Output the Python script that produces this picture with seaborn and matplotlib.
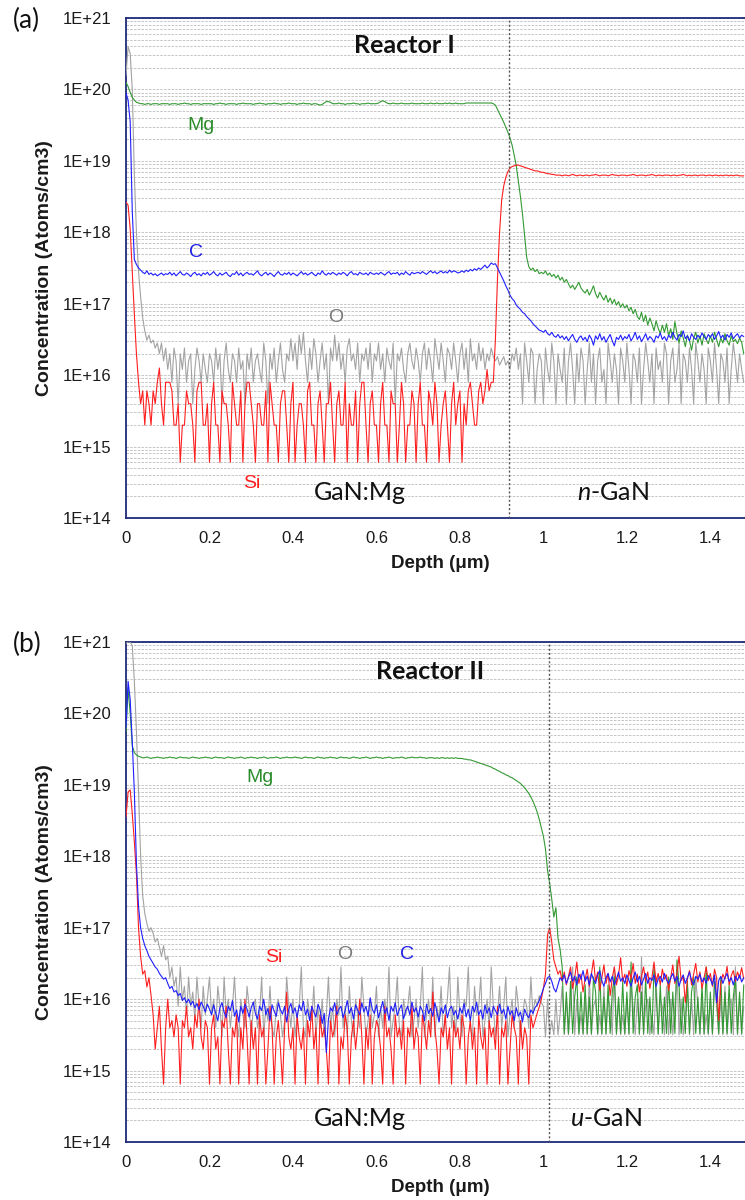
import numpy as np
import pandas as pd
import matplotlib
matplotlib.use("Agg")
import matplotlib.pyplot as plt
import seaborn as sns
from matplotlib.ticker import LogLocator, NullFormatter

# ---------------- data: log10(concentration, atoms/cm3), sampled every 0.005 um ----------------
STEP = 0.005

# Panel (a) Reactor I
mg_a = [
 20.10, 20.04, 19.96, 19.89, 19.85, 19.82, 19.81, 19.80, 19.80, 19.79, 19.80, 19.80, 19.79, 19.80, 19.80, 19.80, 19.79, 19.80, 19.80, 19.80,
 19.80, 19.79, 19.80, 19.80, 19.80, 19.79, 19.80, 19.80, 19.81, 19.80, 19.80, 19.79, 19.80, 19.80, 19.80, 19.80, 19.79, 19.80, 19.80, 19.80,
 19.80, 19.80, 19.79, 19.80, 19.80, 19.81, 19.80, 19.80, 19.79, 19.80, 19.80, 19.80, 19.80, 19.79, 19.80, 19.80, 19.81, 19.80, 19.80, 19.80,
 19.80, 19.79, 19.80, 19.80, 19.81, 19.80, 19.80, 19.79, 19.80, 19.80, 19.80, 19.81, 19.80, 19.80, 19.79, 19.80, 19.80, 19.80, 19.81, 19.80,
 19.80, 19.80, 19.79, 19.80, 19.80, 19.81, 19.80, 19.80, 19.80, 19.79, 19.80, 19.80, 19.79, 19.78, 19.79, 19.81, 19.83, 19.83, 19.82, 19.80,
 19.80, 19.80, 19.81, 19.80, 19.80, 19.79, 19.80, 19.80, 19.80, 19.81, 19.80, 19.80, 19.79, 19.80, 19.80, 19.80, 19.81, 19.80, 19.80, 19.80,
 19.80, 19.81, 19.83, 19.84, 19.83, 19.81, 19.80, 19.80, 19.81, 19.80, 19.80, 19.80, 19.81, 19.80, 19.80, 19.80, 19.80, 19.81, 19.80, 19.80,
 19.80, 19.80, 19.81, 19.80, 19.80, 19.80, 19.81, 19.80, 19.80, 19.81, 19.80, 19.80, 19.80, 19.81, 19.80, 19.81, 19.80, 19.80, 19.81, 19.80,
 19.80, 19.80, 19.80, 19.81, 19.81, 19.81, 19.81, 19.81, 19.81, 19.81, 19.81, 19.81, 19.81, 19.81, 19.81, 19.81, 19.80, 19.78, 19.72, 19.66,
 19.60, 19.54, 19.47, 19.40, 19.32, 19.22, 19.08, 18.93, 18.72, 18.50, 18.25, 17.95, 17.65, 17.52, 17.47, 17.50, 17.45, 17.48, 17.42, 17.44,
 17.42, 17.46, 17.40, 17.43, 17.38, 17.41, 17.36, 17.40, 17.33, 17.37, 17.30, 17.34, 17.28, 17.22, 17.26, 17.20, 17.25, 17.30, 17.22, 17.18,
 17.15, 17.20, 17.12, 17.18, 17.25, 17.14, 17.08, 17.16, 17.10, 17.05, 17.12, 17.02, 17.08, 17.00, 17.06, 16.98, 17.03, 16.95, 17.00, 16.94,
 16.98, 16.90, 16.95, 16.86, 16.92, 16.82, 16.78, 16.88, 16.75, 16.84, 16.70, 16.80, 16.72, 16.62, 16.76, 16.66, 16.58, 16.70, 16.60, 16.72,
 16.55, 16.65, 16.50, 16.75, 16.58, 16.45, 16.62, 16.52, 16.40, 16.56, 16.48, 16.35, 16.52, 16.60, 16.45, 16.55, 16.42, 16.58, 16.50, 16.44,
 16.55, 16.46, 16.60, 16.50, 16.40, 16.52, 16.45, 16.58, 16.48, 16.42, 16.55, 16.47, 16.50, 16.44, 16.52, 16.46, 16.30,
]
si_a = [
 18.42, 18.38, 18.05, 17.45, 16.85, 16.30, 15.90, 15.60, 15.78, 15.30, 15.78, 15.60, 15.30, 15.78, 15.60, 15.90, 16.10, 15.60, 15.30, 15.90,
 15.90, 15.90, 15.78, 15.30, 15.30, 15.60, 14.78, 15.30, 15.30, 15.78, 15.60, 15.60, 15.30, 14.78, 15.78, 15.90, 15.90, 15.30, 15.30, 15.60,
 14.78, 15.60, 15.90, 15.30, 15.30, 14.78, 15.78, 15.60, 15.60, 15.30, 14.78, 15.90, 15.60, 15.30, 15.30, 15.78, 14.78, 15.60, 15.90, 15.90,
 15.60, 15.30, 14.78, 15.60, 15.60, 15.30, 15.30, 15.78, 14.78, 15.90, 15.60, 15.30, 15.30, 14.78, 15.60, 15.78, 15.78, 15.30, 14.78, 15.60,
 15.90, 14.78, 15.30, 15.60, 15.60, 15.30, 14.78, 15.78, 15.90, 15.30, 15.30, 14.78, 15.60, 15.78, 15.30, 14.78, 15.60, 15.60, 15.90, 15.30,
 14.78, 15.60, 15.78, 15.30, 15.30, 15.90, 14.78, 15.60, 15.30, 15.30, 15.78, 14.78, 15.60, 15.90, 15.90, 15.30, 14.78, 15.60, 15.78, 15.30,
 15.30, 14.78, 15.60, 15.90, 15.30, 15.30, 14.78, 15.78, 15.60, 15.60, 14.78, 15.30, 15.90, 15.60, 14.78, 15.30, 15.30, 15.78, 15.60, 14.78,
 15.60, 15.90, 15.30, 15.30, 14.78, 15.78, 15.60, 15.30, 15.90, 15.60, 14.78, 15.30, 15.60, 15.78, 15.30, 14.78, 15.60, 15.90, 15.30, 15.60,
 15.78, 14.78, 15.60, 15.30, 15.78, 15.90, 15.60, 15.30, 15.30, 15.78, 15.90, 15.60, 15.78, 16.08, 15.78, 15.90, 15.90, 16.50, 17.35, 18.00,
 18.45, 18.65, 18.77, 18.85, 18.90, 18.92, 18.93, 18.94, 18.94, 18.93, 18.92, 18.91, 18.90, 18.89, 18.88, 18.87, 18.86, 18.86, 18.85, 18.84,
 18.84, 18.83, 18.82, 18.82, 18.81, 18.81, 18.80, 18.80, 18.80, 18.79, 18.80, 18.80, 18.79, 18.80, 18.81, 18.80, 18.79, 18.80, 18.80, 18.79,
 18.80, 18.80, 18.79, 18.80, 18.80, 18.81, 18.80, 18.79, 18.80, 18.80, 18.80, 18.79, 18.80, 18.81, 18.80, 18.80, 18.79, 18.80, 18.80, 18.80,
 18.79, 18.80, 18.80, 18.81, 18.80, 18.79, 18.80, 18.80, 18.80, 18.79, 18.80, 18.80, 18.81, 18.80, 18.79, 18.80, 18.80, 18.79, 18.80, 18.80,
 18.80, 18.79, 18.80, 18.80, 18.79, 18.80, 18.80, 18.81, 18.80, 18.79, 18.80, 18.79, 18.80, 18.80, 18.79, 18.80, 18.80, 18.80, 18.79, 18.80,
 18.80, 18.79, 18.80, 18.80, 18.79, 18.80, 18.79, 18.80, 18.80, 18.79, 18.80, 18.79, 18.80, 18.80, 18.79, 18.79, 18.79,
]
c_a = [
 19.95, 19.85, 19.55, 18.30, 17.62, 17.55, 17.50, 17.47, 17.44, 17.42, 17.46, 17.41, 17.43, 17.40, 17.42, 17.39, 17.41, 17.43, 17.40, 17.42,
 17.41, 17.44, 17.40, 17.43, 17.39, 17.42, 17.45, 17.41, 17.40, 17.43, 17.41, 17.38, 17.42, 17.44, 17.40, 17.42, 17.39, 17.43, 17.41, 17.44,
 17.40, 17.42, 17.45, 17.41, 17.39, 17.43, 17.40, 17.42, 17.44, 17.40, 17.38, 17.42, 17.41, 17.45, 17.40, 17.43, 17.39, 17.42, 17.44, 17.41,
 17.42, 17.40, 17.43, 17.46, 17.41, 17.39, 17.42, 17.44, 17.40, 17.43, 17.41, 17.38, 17.42, 17.45, 17.41, 17.40, 17.43, 17.41, 17.44, 17.40,
 17.43, 17.41, 17.39, 17.42, 17.45, 17.41, 17.43, 17.40, 17.42, 17.44, 17.41, 17.39, 17.43, 17.41, 17.46, 17.42, 17.40, 17.43, 17.41, 17.44,
 17.42, 17.40, 17.43, 17.41, 17.44, 17.42, 17.39, 17.43, 17.45, 17.41, 17.42, 17.40, 17.44, 17.42, 17.41, 17.43, 17.40, 17.44, 17.42, 17.41,
 17.43, 17.41, 17.44, 17.42, 17.40, 17.43, 17.45, 17.41, 17.43, 17.42, 17.44, 17.40, 17.43, 17.41, 17.45, 17.42, 17.40, 17.44, 17.42, 17.43,
 17.44, 17.42, 17.45, 17.43, 17.41, 17.44, 17.46, 17.43, 17.45, 17.42, 17.44, 17.46, 17.43, 17.45, 17.43, 17.47, 17.44, 17.46, 17.45, 17.43,
 17.44, 17.46, 17.44, 17.47, 17.45, 17.48, 17.46, 17.49, 17.47, 17.50, 17.48, 17.51, 17.54, 17.50, 17.53, 17.57, 17.55, 17.56, 17.50, 17.44,
 17.38, 17.32, 17.25, 17.19, 17.12, 17.07, 17.04, 16.98, 16.95, 16.92, 16.88, 16.86, 16.82, 16.79, 16.76, 16.72, 16.69, 16.66, 16.63, 16.62,
 16.60, 16.63, 16.58, 16.56, 16.60, 16.55, 16.53, 16.57, 16.52, 16.55, 16.50, 16.54, 16.48, 16.53, 16.57, 16.50, 16.46, 16.52, 16.55, 16.49,
 16.53, 16.47, 16.56, 16.51, 16.42, 16.55, 16.50, 16.58, 16.49, 16.54, 16.46, 16.52, 16.57, 16.48, 16.41, 16.53, 16.50, 16.56, 16.49, 16.54,
 16.51, 16.57, 16.48, 16.53, 16.60, 16.50, 16.55, 16.47, 16.52, 16.58, 16.49, 16.54, 16.51, 16.46, 16.55, 16.52, 16.59, 16.50, 16.54, 16.48,
 16.56, 16.52, 16.60, 16.53, 16.49, 16.57, 16.54, 16.62, 16.51, 16.55, 16.48, 16.58, 16.53, 16.50, 16.56, 16.52, 16.59, 16.54, 16.50, 16.57,
 16.53, 16.58, 16.50, 16.55, 16.61, 16.52, 16.56, 16.49, 16.57, 16.53, 16.59, 16.51, 16.55, 16.58, 16.52, 16.56, 16.54,
]
o_a = [
 20.20, 20.60, 20.50, 20.00, 18.80, 18.00, 17.45, 17.10, 16.80, 16.62, 16.49, 16.56, 16.45, 16.49, 16.38, 16.45, 16.30, 16.45, 16.20, 16.38,
 16.08, 16.30, 15.90, 16.38, 16.20, 15.60, 16.30, 16.08, 16.38, 15.90, 16.20, 16.30, 15.60, 16.08, 16.38, 16.20, 15.90, 16.30, 16.08, 15.90,
 16.30, 16.20, 15.90, 16.38, 16.08, 16.30, 15.60, 16.20, 16.45, 16.08, 15.90, 16.30, 16.20, 15.90, 16.38, 16.08, 16.20, 15.60, 16.30, 16.08,
 16.38, 15.90, 16.20, 16.30, 16.08, 15.90, 16.45, 16.20, 15.60, 16.30, 16.08, 16.38, 15.90, 16.20, 16.45, 16.08, 15.90, 16.30, 16.20, 16.51,
 16.20, 16.45, 16.08, 16.56, 16.30, 16.60, 16.20, 15.90, 16.38, 16.08, 16.51, 16.30, 15.90, 16.20, 16.45, 16.08, 16.30, 15.60, 16.38, 16.20,
 16.56, 16.20, 16.45, 16.08, 16.30, 15.90, 16.38, 16.51, 16.20, 16.30, 16.08, 16.45, 15.90, 16.30, 16.20, 16.38, 16.08, 16.45, 15.90, 16.30,
 16.20, 16.45, 16.08, 16.30, 15.90, 16.38, 16.20, 16.08, 16.45, 15.60, 16.30, 16.20, 16.38, 16.08, 15.90, 16.30, 16.45, 16.20, 16.08, 16.38,
 16.20, 15.90, 16.30, 16.45, 16.08, 16.38, 16.20, 15.90, 16.51, 16.30, 16.08, 16.45, 16.20, 15.90, 16.38, 16.30, 16.08, 16.45, 16.20, 15.90,
 16.30, 16.45, 16.08, 16.38, 15.90, 16.51, 16.20, 16.30, 16.08, 16.45, 16.20, 16.38, 16.08, 16.30, 16.20, 16.38, 16.26, 16.20, 16.26, 16.14,
 16.20, 16.26, 16.14, 16.20, 16.08, 16.30, 16.20, 16.38, 16.08, 16.30, 15.60, 16.45, 16.20, 15.90, 16.38, 16.30, 15.60, 16.08, 16.30, 16.20,
 15.60, 16.38, 16.08, 15.90, 16.45, 16.20, 15.60, 16.30, 16.08, 15.90, 16.38, 15.60, 16.20, 16.45, 16.08, 15.60, 16.30, 15.90, 16.38, 16.20,
 15.60, 16.08, 16.45, 15.90, 16.30, 15.60, 16.20, 16.38, 15.90, 16.08, 15.60, 16.45, 16.20, 15.90, 16.30, 16.08, 15.60, 16.38, 16.20, 15.90,
 16.45, 16.08, 15.60, 16.30, 16.20, 15.90, 16.38, 15.60, 16.08, 16.45, 16.20, 15.90, 16.30, 15.60, 16.38, 16.08, 16.20, 15.90, 16.45, 16.30,
 15.60, 16.20, 16.38, 15.90, 16.08, 16.45, 15.60, 16.30, 16.20, 15.90, 16.38, 16.08, 15.60, 16.45, 16.20, 15.90, 16.30, 16.08, 15.60, 16.38,
 16.20, 15.90, 16.45, 16.08, 15.60, 16.30, 16.20, 15.90, 16.38, 15.60, 16.08, 16.45, 16.20, 15.90, 16.30, 16.08, 15.90,
]

# Panel (b) Reactor II
mg_b = [
 19.75, 20.35, 20.00, 19.55, 19.45, 19.42, 19.40, 19.39, 19.38, 19.38, 19.39, 19.38, 19.37, 19.38, 19.38, 19.39, 19.38, 19.38, 19.37, 19.38,
 19.38, 19.39, 19.38, 19.38, 19.37, 19.38, 19.39, 19.38, 19.38, 19.38, 19.37, 19.38, 19.39, 19.38, 19.38, 19.37, 19.38, 19.38, 19.39, 19.38,
 19.38, 19.37, 19.38, 19.39, 19.38, 19.38, 19.38, 19.37, 19.38, 19.39, 19.38, 19.38, 19.37, 19.38, 19.38, 19.39, 19.38, 19.37, 19.38, 19.38,
 19.39, 19.38, 19.38, 19.37, 19.38, 19.38, 19.39, 19.38, 19.37, 19.38, 19.38, 19.38, 19.39, 19.38, 19.37, 19.38, 19.38, 19.39, 19.38, 19.38,
 19.38, 19.39, 19.38, 19.38, 19.37, 19.38, 19.39, 19.38, 19.38, 19.38, 19.37, 19.38, 19.39, 19.38, 19.38, 19.37, 19.38, 19.38, 19.39, 19.38,
 19.38, 19.37, 19.38, 19.39, 19.38, 19.38, 19.38, 19.37, 19.38, 19.39, 19.38, 19.38, 19.37, 19.38, 19.38, 19.39, 19.38, 19.37, 19.38, 19.38,
 19.39, 19.38, 19.38, 19.37, 19.38, 19.38, 19.39, 19.38, 19.37, 19.38, 19.38, 19.38, 19.39, 19.38, 19.37, 19.38, 19.38, 19.39, 19.38, 19.38,
 19.38, 19.39, 19.38, 19.38, 19.37, 19.38, 19.38, 19.38, 19.37, 19.38, 19.37, 19.38, 19.38, 19.37, 19.38, 19.37, 19.38, 19.37, 19.38, 19.37,
 19.37, 19.37, 19.36, 19.36, 19.35, 19.35, 19.34, 19.33, 19.32, 19.31, 19.30, 19.29, 19.28, 19.27, 19.26, 19.25, 19.23, 19.22, 19.20, 19.19,
 19.17, 19.16, 19.14, 19.13, 19.11, 19.10, 19.08, 19.06, 19.04, 19.02, 18.99, 18.96, 18.92, 18.88, 18.83, 18.77, 18.70, 18.62, 18.52, 18.40,
 18.28, 18.10, 17.80, 17.62, 17.40, 17.15, 17.28, 16.85, 16.70, 16.45, 15.52, 16.10, 15.52, 16.25, 15.52, 16.03, 16.31, 15.52, 16.10, 15.52,
 16.20, 15.52, 16.03, 15.52, 16.31, 16.10, 15.52, 16.45, 15.52, 16.03, 15.52, 16.20, 15.52, 16.10, 16.31, 15.52, 16.03, 15.52, 16.25, 15.52,
 16.10, 15.52, 16.52, 15.52, 16.03, 16.20, 15.52, 16.10, 15.52, 16.31, 15.52, 16.03, 15.52, 16.45, 16.10, 15.52, 16.20, 15.52, 16.03, 15.52,
 16.31, 15.52, 16.10, 15.52, 16.55, 16.20, 15.52, 16.03, 15.52, 16.25, 15.52, 16.10, 16.31, 15.52, 16.03, 15.52, 16.20, 15.52, 16.45, 15.52,
 16.10, 15.52, 16.25, 16.03, 15.52, 16.31, 15.52, 16.10, 15.52, 16.20, 15.52, 16.03, 16.31, 15.52, 16.10, 15.52, 16.20,
]
si_b = [
 18.55, 18.90, 18.93, 18.60, 18.20, 17.75, 17.00, 16.60, 16.35, 16.40, 16.17, 16.30, 16.05, 15.78, 15.30, 15.60, 15.90, 15.30, 14.81, 15.60,
 16.00, 15.60, 15.70, 15.47, 15.78, 15.60, 14.81, 15.70, 15.60, 15.90, 15.47, 15.60, 15.30, 15.78, 15.60, 16.00, 15.47, 15.30, 15.70, 15.60,
 14.81, 15.60, 15.78, 15.30, 15.47, 14.81, 15.70, 15.60, 15.90, 15.30, 14.81, 15.60, 15.47, 15.78, 14.81, 15.60, 15.30, 16.00, 15.47, 14.81,
 15.70, 15.30, 15.60, 14.81, 15.78, 15.47, 15.60, 14.81, 15.30, 15.90, 15.60, 14.81, 15.47, 15.70, 15.30, 14.81, 15.60, 16.10, 15.47, 15.30,
 15.60, 14.81, 15.78, 15.47, 15.30, 15.60, 14.81, 15.70, 15.47, 15.90, 15.30, 15.60, 14.81, 15.78, 15.47, 15.60, 15.30, 14.81, 15.70, 15.47,
 15.60, 15.90, 14.81, 15.47, 15.30, 15.78, 15.60, 14.81, 15.47, 15.70, 15.30, 15.60, 16.00, 15.47, 14.81, 15.60, 15.30, 15.78, 14.81, 15.47,
 15.70, 15.60, 15.30, 14.81, 15.90, 15.47, 15.60, 15.30, 14.81, 15.78, 15.47, 15.60, 15.30, 15.70, 14.81, 15.60, 15.47, 15.90, 15.30, 15.60,
 15.47, 14.81, 15.78, 15.60, 15.30, 15.70, 15.47, 16.10, 15.60, 15.30, 14.81, 15.60, 15.47, 15.78, 15.30, 15.60, 14.81, 15.70, 15.47, 15.60,
 15.30, 15.78, 15.60, 14.81, 15.47, 15.70, 15.30, 15.60, 14.81, 15.78, 15.47, 15.30, 15.60, 14.81, 15.70, 15.47, 15.60, 15.30, 15.90, 14.81,
 15.60, 15.47, 15.70, 14.81, 15.30, 15.78, 15.60, 15.47, 14.81, 15.70, 15.30, 15.60, 15.47, 14.81, 15.78, 15.60, 15.70, 15.80, 15.89, 16.00,
 16.15, 16.35, 16.90, 17.00, 16.80, 16.55, 16.45, 16.35, 16.40, 16.25, 16.38, 16.20, 16.32, 16.45, 16.15, 16.30, 16.52, 16.22, 16.35, 16.10,
 16.28, 16.42, 16.18, 16.35, 16.55, 16.25, 16.38, 16.12, 16.30, 16.48, 16.22, 16.36, 16.05, 16.30, 16.45, 16.20, 16.33, 16.58, 16.25, 16.35,
 16.18, 16.40, 16.28, 16.50, 16.22, 16.35, 16.10, 16.32, 16.45, 16.25, 16.38, 16.15, 16.30, 16.52, 16.24, 16.36, 16.20, 16.42, 16.28, 16.34,
 16.12, 16.30, 16.48, 16.22, 16.36, 16.60, 16.26, 16.32, 15.95, 16.28, 16.40, 16.20, 16.35, 16.50, 16.24, 16.38, 16.15, 16.30, 16.45, 16.26,
 16.36, 16.18, 16.42, 16.30, 15.70, 16.22, 16.35, 16.28, 16.46, 16.20, 16.33, 16.40, 16.25, 16.38, 16.30, 16.44, 16.28,
]
c_b = [
 19.80, 20.45, 20.20, 19.60, 18.90, 17.90, 17.30, 17.00, 16.85, 16.75, 16.68, 16.60, 16.55, 16.50, 16.45, 16.42, 16.36, 16.32, 16.28, 16.30,
 16.22, 16.15, 16.18, 16.10, 16.12, 16.05, 16.08, 15.98, 16.02, 15.95, 16.00, 15.92, 15.97, 15.88, 15.94, 15.85, 15.96, 15.90, 15.82, 15.93,
 15.86, 15.78, 15.92, 15.80, 15.70, 15.88, 15.95, 15.82, 15.74, 15.90, 15.84, 15.98, 15.76, 15.85, 15.68, 15.90, 15.80, 15.93, 15.86, 15.75,
 15.88, 15.96, 15.80, 15.72, 15.90, 15.84, 16.00, 15.78, 15.87, 15.70, 15.92, 15.83, 15.76, 15.95, 15.85, 15.79, 15.90, 15.68, 15.86, 15.94,
 15.80, 15.88, 15.74, 15.92, 15.84, 15.97, 15.78, 15.86, 15.70, 15.90, 15.82, 15.75, 15.93, 15.85, 15.66, 15.80, 15.25, 15.72, 15.88, 15.83,
 15.95, 15.78, 15.86, 15.90, 15.74, 15.84, 15.98, 15.80, 15.88, 15.72, 15.92, 15.85, 15.78, 15.95, 15.82, 15.90, 15.76, 16.02, 15.86, 15.80,
 15.92, 15.74, 15.85, 15.97, 15.80, 15.88, 15.70, 15.90, 15.83, 15.95, 15.77, 15.86, 15.92, 15.72, 15.84, 15.90, 15.78, 15.96, 15.82, 15.88,
 15.75, 15.90, 15.84, 15.70, 15.93, 15.80, 15.87, 15.76, 15.95, 15.82, 15.68, 15.88, 15.80, 15.92, 15.74, 15.86, 15.90, 15.78, 15.84, 15.72,
 15.88, 15.80, 15.94, 15.75, 15.86, 15.70, 15.90, 15.82, 15.96, 15.78, 15.85, 15.72, 15.92, 15.80, 15.88, 15.74, 15.90, 15.84, 15.78, 15.93,
 15.80, 15.86, 15.72, 15.90, 15.78, 15.84, 15.70, 15.88, 15.76, 15.82, 15.68, 15.86, 15.78, 15.74, 15.85, 15.80, 15.88, 15.92, 15.98, 16.06,
 16.15, 16.22, 16.30, 16.32, 16.25, 16.15, 16.10, 16.20, 16.30, 16.26, 16.34, 16.22, 16.30, 16.38, 16.25, 16.32, 16.20, 16.35, 16.28, 16.40,
 16.25, 16.32, 16.20, 16.36, 16.28, 16.22, 16.34, 16.40, 16.26, 16.18, 16.30, 16.36, 16.24, 16.32, 16.20, 16.28, 16.38, 16.25, 16.30, 16.22,
 16.34, 16.26, 16.18, 16.30, 16.38, 16.24, 16.32, 16.20, 16.28, 16.36, 16.22, 16.30, 16.26, 16.34, 16.18, 16.28, 16.32, 16.24, 16.36, 16.27,
 16.22, 16.30, 16.36, 16.25, 16.32, 16.18, 16.28, 16.34, 16.22, 16.30, 16.38, 16.26, 16.20, 16.32, 16.28, 16.35, 16.24, 16.30, 16.22, 16.33,
 16.28, 16.20, 16.34, 15.95, 16.26, 16.32, 16.22, 16.30, 16.36, 16.25, 16.30, 16.20, 16.32, 16.26, 16.34, 16.24, 16.30,
]
o_b = [
 20.98, 21.00, 21.00, 20.95, 20.45, 19.75, 18.90, 18.00, 17.45, 17.20, 17.06, 16.95, 17.00, 16.92, 16.80, 16.85, 16.73, 16.60, 16.75, 16.55,
 16.60, 16.30, 16.45, 16.18, 16.31, 15.90, 16.45, 16.00, 16.18, 15.78, 16.31, 15.90, 16.10, 15.70, 16.31, 15.90, 15.60, 16.18, 15.78, 16.00,
 16.31, 15.78, 16.00, 15.60, 16.18, 15.90, 15.47, 16.31, 15.78, 16.00, 15.60, 15.90, 16.31, 15.70, 15.47, 16.00, 15.78, 15.60, 16.18, 15.90,
 15.47, 15.90, 16.00, 15.60, 15.78, 16.31, 15.47, 15.90, 15.70, 16.18, 15.60, 15.47, 15.90, 16.00, 15.78, 15.47, 15.70, 16.31, 15.90, 15.60,
 16.00, 15.47, 15.78, 15.90, 16.45, 15.60, 15.47, 16.00, 15.78, 15.70, 16.18, 15.47, 15.90, 15.60, 16.00, 15.47, 15.78, 16.31, 15.60, 15.90,
 15.47, 16.00, 15.78, 16.45, 15.60, 15.90, 15.47, 16.18, 15.70, 15.47, 16.00, 15.78, 15.60, 16.31, 15.90, 15.47, 15.70, 16.00, 15.60, 15.78,
 16.18, 15.47, 15.90, 15.60, 16.00, 15.78, 16.45, 15.47, 15.70, 15.90, 16.31, 15.60, 15.47, 16.00, 15.78, 15.90, 16.18, 15.47, 15.70, 16.00,
 15.60, 15.90, 16.45, 15.47, 15.78, 16.00, 15.60, 16.31, 15.47, 15.90, 15.70, 16.18, 15.47, 15.78, 16.00, 16.45, 15.60, 15.90, 15.47, 16.31,
 15.78, 15.47, 16.00, 15.90, 16.45, 15.60, 15.47, 16.18, 15.78, 15.90, 16.31, 15.47, 15.70, 16.00, 15.60, 16.45, 15.90, 15.47, 15.78, 16.18,
 15.60, 15.90, 16.31, 15.47, 15.78, 16.00, 15.60, 16.18, 15.90, 15.47, 15.78, 16.00, 15.90, 15.60, 16.31, 15.78, 16.00, 15.90, 16.05, 15.95,
 15.90, 15.47, 16.00, 15.50, 15.70, 15.50, 16.00, 15.50, 15.78, 16.18, 15.50, 16.00, 15.50, 15.90, 16.45, 15.50, 16.00, 15.50, 15.78, 15.50,
 16.00, 15.50, 16.31, 15.50, 15.90, 16.00, 15.50, 15.78, 15.50, 16.18, 15.50, 16.00, 15.90, 15.50, 16.45, 15.50, 16.00, 15.50, 15.78, 15.50,
 16.00, 15.50, 16.18, 15.90, 15.50, 16.00, 15.50, 16.59, 15.50, 15.90, 16.00, 15.50, 15.78, 15.50, 16.31, 15.50, 16.00, 15.90, 15.50, 16.18,
 15.50, 16.00, 15.50, 15.90, 16.45, 15.50, 16.00, 15.50, 15.78, 16.18, 15.50, 16.00, 15.50, 16.31, 15.90, 15.50, 16.00, 15.50, 15.78, 15.50,
 16.00, 15.50, 16.31, 15.90, 15.50, 16.00, 15.50, 16.18, 15.50, 15.90, 16.00, 15.50, 16.45, 15.50, 16.00, 15.50, 15.90,
]

elements = ["O", "Mg", "Si", "C"]          # drawing order (bottom -> top)
palette = {"O": "#a3a3a3", "Mg": "#339a33", "Si": "#ff1f1f", "C": "#1f1fff"}
ytick_vals = [1e14, 1e15, 1e16, 1e17, 1e18, 1e19, 1e20, 1e21]
ytick_labels = ["1E+14", "1E+15", "1E+16", "1E+17", "1E+18", "1E+19", "1E+20", "1E+21"]
xtick_vals = [0, 0.2, 0.4, 0.6, 0.8, 1.0, 1.2, 1.4]
xtick_labels = ["0", "0.2", "0.4", "0.6", "0.8", "1", "1.2", "1.4"]
interfaces = {"a": 0.917, "b": 1.013}


def long_frame(series):
    rows = []
    for el, vals in series.items():
        v = np.asarray(vals, dtype=float)
        rows.append(pd.DataFrame({"depth": np.arange(len(v)) * STEP,
                                  "conc": 10.0 ** v, "element": el}))
    return pd.concat(rows, ignore_index=True)


df_a = long_frame({"O": o_a, "Mg": mg_a, "Si": si_a, "C": c_a})
df_b = long_frame({"O": o_b, "Mg": mg_b, "Si": si_b, "C": c_b})

# ---------------- styling ----------------
sns.set_theme(style="white")
plt.rcParams["font.family"] = ["Liberation Sans", "DejaVu Sans"]
plt.rcParams["mathtext.fontset"] = "custom"
plt.rcParams["mathtext.rm"] = "Lato"
plt.rcParams["mathtext.it"] = "Lato:italic"

NAVY = "#1f2a78"
fig = plt.figure(figsize=(7.45, 12), dpi=100)
ax_a = fig.add_axes([126 / 745, 1 - 518 / 1200, 619 / 745, 500 / 1200])
ax_b = fig.add_axes([126 / 745, 1 - 1142 / 1200, 619 / 745, 500 / 1200])


def style_axes(ax, df, x_int):
    sns.lineplot(data=df, x="depth", y="conc", hue="element", hue_order=elements,
                 palette=palette, estimator=None, sort=False, linewidth=0.8,
                 legend=False, ax=ax, zorder=3)
    ax.set_yscale("log")
    ax.set_ylim(1e14, 1e21)
    ax.set_xlim(0, 1.483)
    ax.set_yticks(ytick_vals, ytick_labels)
    ax.yaxis.set_minor_locator(LogLocator(base=10, subs=np.arange(2, 10)))
    ax.yaxis.set_minor_formatter(NullFormatter())
    ax.set_xticks(xtick_vals, xtick_labels)
    ax.yaxis.grid(True, which="both", color="#bdbdbd", linestyle=(0, (3, 1.5)), linewidth=0.6, zorder=0)
    ax.xaxis.grid(False)
    ax.tick_params(axis="both", which="both", direction="in", colors=NAVY,
                   labelcolor="#1a1a1a", labelsize=12, width=0.8)
    ax.tick_params(axis="y", which="major", length=5, pad=10.5)
    ax.tick_params(axis="y", which="minor", length=3.5)
    ax.tick_params(axis="x", which="major", length=5, pad=9.5)
    for side in ("left", "top", "bottom"):
        ax.spines[side].set_color(NAVY)
        ax.spines[side].set_linewidth(1.3)
        ax.spines[side].set_visible(True)
    ax.spines["right"].set_visible(False)
    ax.axvline(x_int, color="#555555", linewidth=1.0, linestyle=(0, (1.5, 1.5)), zorder=4)
    ax.set_ylabel("Concentration (Atoms/cm3)", fontsize=14, fontweight="bold", color="#1a1a1a")
    ax.set_xlabel("Depth (μm)", fontsize=13.5, fontweight="bold", color="#1a1a1a")
    ax.yaxis.set_label_coords(-0.118, 0.5)
    ax.xaxis.set_label_coords(0.507, -0.074)
    ax.set_facecolor("white")


style_axes(ax_a, df_a, interfaces["a"])
style_axes(ax_b, df_b, interfaces["b"])

lab = dict(fontsize=14, ha="center", va="center", zorder=6)
big = dict(fontsize=18, ha="center", va="center", family="Lato", color="#111111", zorder=6)

# panel (a) annotations
ax_a.text(0.668, 10 ** 20.62, "Reactor I", fontweight="bold", **big)
ax_a.text(0.179, 10 ** 19.49, "Mg", color="#2a8c2a", **lab)
ax_a.text(0.167, 10 ** 17.71, "C", color="#1f1fe6", **lab)
ax_a.text(0.503, 10 ** 16.80, "O", color="#7a7a7a", **lab)
ax_a.text(0.302, 10 ** 14.49, "Si", color="#ff1f1f", **lab)
ax_a.text(0.561, 10 ** 14.36, "GaN:Mg", **big)
ax_a.text(1.167, 10 ** 14.36, r"$\it{n}$-GaN", **big)

# panel (b) annotations
ax_b.text(0.728, 10 ** 20.59, "Reactor II", fontweight="bold", **big)
ax_b.text(0.321, 10 ** 19.10, "Mg", color="#2a8c2a", **lab)
ax_b.text(0.353, 10 ** 16.59, "Si", color="#ff1f1f", **lab)
ax_b.text(0.525, 10 ** 16.63, "O", color="#7a7a7a", **lab)
ax_b.text(0.674, 10 ** 16.62, "C", color="#1f1fe6", **lab)
ax_b.text(0.561, 10 ** 14.33, "GaN:Mg", **big)
ax_b.text(1.151, 10 ** 14.33, r"$\it{u}$-GaN", **big)

fig.text(26.7 / 745, 1 - 20.8 / 1200, "(a)", fontsize=19, family="Lato", ha="center", va="center", color="#111111")
fig.text(27.5 / 745, 1 - 644 / 1200, "(b)", fontsize=19, family="Lato", ha="center", va="center", color="#111111")

fig.savefig("out.png", dpi=100, facecolor="white")
